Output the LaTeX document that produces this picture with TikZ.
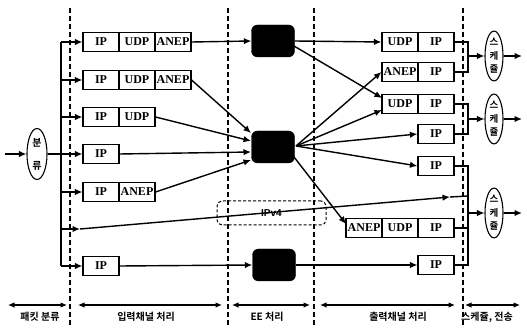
\documentclass[tikz,border=0pt]{standalone}
\usepackage{fontspec}
\setmainfont{Liberation Serif}
\newfontfamily\kr{Noto Sans CJK KR}[BoldFont={Noto Sans CJK KR Bold}]
\newfontfamily\sansf{Liberation Sans}
\usetikzlibrary{arrows.meta,shapes.geometric,calc}
\begin{document}
\begin{tikzpicture}[x=1pt,y=-1pt,
 cell/.style={draw,line width=1.1pt,minimum width=36pt,minimum height=19pt,inner sep=0pt,font=\bfseries\fontsize{12}{12}\selectfont},
 eebox/.style={fill=black,draw=black,rounded corners=6pt,minimum width=43pt,minimum height=32pt,inner sep=0pt},
 conn/.style={line width=1.4pt},
 arr/.style={conn,-{Latex[length=7.5pt,width=6.5pt]}},
 sepline/.style={line width=1.2pt,dash pattern=on 5pt off 3pt},
 dimarr/.style={line width=1.1pt,{Latex[length=6.5pt,width=5.5pt]}-{Latex[length=6.5pt,width=5.5pt]}},
 lab/.style={font=\kr\bfseries\fontsize{10}{12}\selectfont,inner sep=0pt},
 sch/.style={draw,ellipse,line width=1.1pt,minimum width=18pt,minimum height=46pt,inner sep=0pt,align=center,font=\kr\bfseries\fontsize{9.5}{13.5}\selectfont}]
\useasboundingbox (0,0) rectangle (527,328);

% separators
\draw[sepline] (70,8) -- (70,328);
\draw[sepline] (228,8) -- (228,328);
\draw[sepline] (314,8) -- (314,328);
\draw[sepline] (463,8) -- (463,328);

% classifier
\coordinate (in0) at (5,154);
\node[draw,ellipse,line width=1.1pt,minimum width=20pt,minimum height=51pt,inner sep=0pt,align=center,font=\kr\bfseries\fontsize{10}{23}\selectfont] (cls) at (37,154) {분\\류};
\draw[arr] (in0) -- (cls.west);

% input cells
\node[cell] (i1a) at (101,42) {IP};
\node[cell] (i1b) at (137,42) {UDP};
\node[cell] (i1c) at (173,42) {ANEP};
\node[cell] (i2a) at (101,80) {IP};
\node[cell] (i2b) at (137,80) {UDP};
\node[cell] (i2c) at (173,80) {ANEP};
\node[cell] (i3a) at (101,117) {IP};
\node[cell] (i3b) at (137,117) {UDP};
\node[cell] (i4a) at (101,154) {IP};
\node[cell] (i5a) at (101,192) {IP};
\node[cell] (i5b) at (137,192) {ANEP};
\node[cell] (i7a) at (101,266) {IP};

% bus
\coordinate (b1) at (61,42);
\coordinate (b2) at (61,80);
\coordinate (b3) at (61,117);
\coordinate (b4) at (61,154);
\coordinate (b5) at (61,192);
\coordinate (b6) at (61,229);
\coordinate (b7) at (61,266);
\draw[conn] (cls.east) -- (b4);
\draw[conn] (b1) -- (b7);
\draw[arr] (b1) -- (i1a.west);
\draw[arr] (b2) -- (i2a.west);
\draw[arr] (b3) -- (i3a.west);
\draw[arr] (b4) -- (i4a.west);
\draw[arr] (b5) -- (i5a.west);
\coordinate (r6s) at (80,229);
\draw[arr] (b6) -- (r6s);
\draw[arr] (b7) -- (i7a.west);

% EE boxes
\node[eebox] (ee1) at (273,41) {};
\node[eebox] (ee2) at (273,147) {};
\node[eebox] (ee3) at (274,265) {};

\coordinate (e2a) at (251,133);
\coordinate (e2b) at (251,141);
\coordinate (e2c) at (251,152);
\coordinate (e2d) at (251,160);
\draw[arr] (i1c.east) -- (ee1.west);
\draw[arr] (i2c.east) -- (e2a);
\draw[arr] (i3b.east) -- (e2b);
\draw[arr] (i4a.east) -- (e2c);
\draw[arr] (i5b.east) -- (e2d);
\draw[arr] (i7a.east) -- (ee3.west);

% output cells
\node[cell] (o1a) at (400,42) {UDP};
\node[cell] (o1b) at (436,42) {IP};
\node[cell] (o2a) at (400,72) {ANEP};
\node[cell] (o2b) at (436,72) {IP};
\node[cell] (o3a) at (400,104) {UDP};
\node[cell] (o3b) at (436,104) {IP};
\node[cell] (o4b) at (436,134) {IP};
\node[cell] (o5b) at (436,166) {IP};
\node[cell] (o7a) at (364,228) {ANEP};
\node[cell] (o7b) at (400,228) {UDP};
\node[cell] (o7c) at (436,228) {IP};
\node[cell] (o8b) at (436,265) {IP};

% EE outputs
\coordinate (e1s) at (294,46);
\coordinate (e2s) at (296,146);
\coordinate (e2t) at (294,157);
\coordinate (o3u) at (382,98);
\coordinate (o3l) at (382,110);
\coordinate (o7t) at (346,224);
\draw[arr] (ee1.east) -- (o1a.west);
\draw[arr] (e1s) -- (o3u);
\draw[arr] (e2s) -- (o2a.west);
\draw[arr] (e2s) -- (o3l);
\draw[arr] (e2s) -- (o4b.west);
\draw[arr] (e2s) -- (o5b.west);
\draw[arr] (e2t) -- (o7t);
\draw[arr] (ee3.east) -- (o8b.west);

% IPv4 pass-through
\coordinate (r6e) at (450,197);
\coordinate (r6b) at (468,196);
\draw[arr] (r6s) -- (r6e);
\draw[conn] (r6e) -- (r6b);
\node[draw,rounded corners=5pt,line width=1pt,dash pattern=on 3pt off 2pt,minimum width=109pt,minimum height=24pt,inner sep=0pt,font=\sansf\bfseries\fontsize{10}{10}\selectfont] (v4) at (271.5,213) {IPv4};

% schedulers
\node[sch] (s1) at (494,56) {스\\케\\쥴};
\node[sch] (s2) at (494,119) {스\\케\\쥴};
\node[sch] (s3) at (494,213) {스\\케\\쥴};
\coordinate (g1t) at (468,42);
\coordinate (g1b) at (468,72);
\coordinate (g1m) at (468,56);
\coordinate (g2t) at (468,104);
\coordinate (g2b) at (468,134);
\coordinate (g2m) at (468,119);
\coordinate (g3t) at (468,166);
\coordinate (g3c) at (468,228);
\coordinate (g3b) at (468,265);
\coordinate (g3m) at (468,213);
\draw[conn] (o1b.east) -- (g1t) -- (g1b) -- (o2b.east);
\draw[conn] (o3b.east) -- (g2t) -- (g2b) -- (o4b.east);
\draw[conn] (o5b.east) -- (g3t) -- (g3b) -- (o8b.east);
\draw[conn] (o7c.east) -- (g3c);
\draw[arr] (g1m) -- (s1.west);
\draw[arr] (g2m) -- (s2.west);
\draw[arr] (g3m) -- (s3.west);
\coordinate (x1) at (522,56);
\coordinate (x2) at (522,119);
\coordinate (x3) at (522,213);
\draw[arr] (s1.east) -- (x1);
\draw[arr] (s2.east) -- (x2);
\draw[arr] (s3.east) -- (x3);

% bottom dimension arrows
\coordinate (d1l) at (8,305); \coordinate (d1r) at (67,305);
\coordinate (d2l) at (78,305); \coordinate (d2r) at (222,305);
\coordinate (d3l) at (232,305); \coordinate (d3r) at (310,305);
\coordinate (d4l) at (320,305); \coordinate (d4r) at (455,305);
\coordinate (d5l) at (465,305); \coordinate (d5r) at (520,305);
\draw[dimarr] (d1l) -- (d1r);
\draw[dimarr] (d2l) -- (d2r);
\draw[dimarr] (d3l) -- (d3r);
\draw[dimarr] (d4l) -- (d4r);
\draw[dimarr] (d5l) -- (d5r);
\node[lab] (l1) at (40,317) {패킷 분류};
\node[lab] (l2) at (146,317) {입력채널 처리};
\node[lab] (l3) at (267,317) {EE 처리};
\node[lab] (l4) at (398,317) {출력채널 처리};
\node[lab] (l5) at (487,317) {스케쥴, 전송};
\end{tikzpicture}
\end{document}
